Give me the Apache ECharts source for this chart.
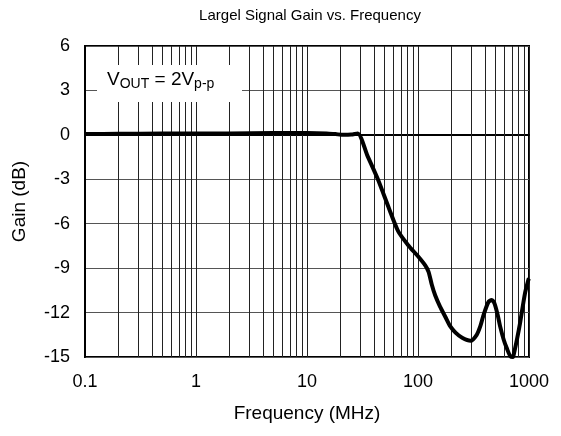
<!DOCTYPE html>
<html>
<head>
<meta charset="utf-8">
<script src="https://cdn.jsdelivr.net/npm/echarts@6/dist/echarts.min.js"></script>
<style>
html,body{margin:0;padding:0;background:#fff;}
#chart{width:561px;height:436px;}
</style>
</head>
<body>
<div id="chart"></div>
<script>
// Data
var freqMHz = [0.1, 0.2, 0.5, 1, 2, 5, 10, 15, 18, 21.5, 25, 28.6, 35, 43.5, 55, 66.2, 81.6, 100, 115.8, 124.5, 133, 143, 158, 176.6, 194, 217.8, 250, 298, 338, 365, 388, 430, 461, 487, 520, 548, 590, 630, 684, 716, 733, 780, 829, 920, 986, 1000];
var gainDb  = [0.05, 0.07, 0.09, 0.1, 0.1, 0.12, 0.12, 0.1, 0.05, 0.0, 0.02, 0.1, -1.4, -3.0, -5.0, -6.5, -7.45, -8.2, -8.8, -9.25, -10.1, -10.85, -11.6, -12.3, -12.9, -13.35, -13.7, -13.9, -13.5, -12.9, -12.2, -11.3, -11.15, -11.35, -12.1, -12.9, -13.8, -14.4, -14.98, -15.0, -14.75, -13.8, -12.75, -10.7, -9.8, -9.7];
var xTickValues = [0.1, 1, 10, 100, 1000];
var xTickLabels = ['0.1', '1', '10', '100', '1000'];
var yTickValues = [6, 3, 0, -3, -6, -9, -12, -15];
var yTickLabels = ['6', '3', '0', '-3', '-6', '-9', '-12', '-15'];
var minorMultipliers = [2, 3, 4, 5, 6, 7, 8, 9];
var decadeStarts = [0.1, 1, 10, 100];
var titleText = 'Largel Signal Gain vs. Frequency';
var xName = 'Frequency (MHz)';
var yName = 'Gain (dB)';

var FONT = '"Liberation Sans", Arial, sans-serif';

var seriesData = freqMHz.map(function (f, i) { return [f, gainDb[i]]; });

var minorLines = [];
decadeStarts.forEach(function (d) {
  minorMultipliers.forEach(function (m) {
    minorLines.push({ xAxis: +(d * m).toPrecision(6) });
  });
});

var chart = echarts.init(document.getElementById('chart'), null, { renderer: 'canvas' });
chart.setOption({
  animation: false,
  backgroundColor: '#fff',
  title: {
    text: titleText,
    left: 305,
    top: 3,
    textAlign: 'center',
    textStyle: { fontFamily: FONT, fontSize: 15, fontWeight: 'normal', color: '#000' }
  },
  grid: {
    left: 85, right: 32, top: 46, bottom: 79,
    show: true, borderColor: '#000', borderWidth: 2, backgroundColor: 'transparent'
  },
  xAxis: {
    type: 'log',
    logBase: 10,
    min: 0.1,
    max: 1000,
    name: xName,
    nameLocation: 'middle',
    nameGap: 47,
    nameTextStyle: { fontFamily: FONT, fontSize: 19, color: '#000' },
    axisLine: { show: true, lineStyle: { color: '#000', width: 2 } },
    axisTick: { show: false },
    axisLabel: {
      fontFamily: FONT, fontSize: 18, color: '#000', margin: 16,
      formatter: function (v) {
        for (var i = 0; i < xTickValues.length; i++) {
          if (Math.abs(Math.log10(v) - Math.log10(xTickValues[i])) < 1e-6) return xTickLabels[i];
        }
        return '';
      }
    },
    splitLine: { show: true, lineStyle: { color: '#222', width: 1 } }
  },
  yAxis: {
    type: 'value',
    min: -15,
    max: 6,
    interval: 3,
    name: yName,
    nameLocation: 'middle',
    nameGap: 56,
    nameTextStyle: { fontFamily: FONT, fontSize: 19, color: '#000' },
    axisLine: { show: true, lineStyle: { color: '#000', width: 2 } },
    axisTick: { show: false },
    axisLabel: {
      fontFamily: FONT, fontSize: 18, color: '#000', margin: 15,
      formatter: function (v) {
        var i = yTickValues.indexOf(v);
        return i >= 0 ? yTickLabels[i] : '';
      }
    },
    splitLine: { show: true, lineStyle: { color: '#555', width: 1.2 } }
  },
  graphic: [
    {
      type: 'rect',
      left: 97, top: 65, z: 10,
      shape: { width: 145, height: 37 },
      style: { fill: '#fff' }
    },
    {
      type: 'text',
      left: 107, top: 70, z: 11,
      style: {
        text: '{v|V}{s|OUT}{v| = 2V}{s|p-p}',
        rich: {
          v: { fontFamily: FONT, fontSize: 19, lineHeight: 24, fill: '#000', color: '#000' },
          s: { fontFamily: FONT, fontSize: 14, lineHeight: 14, verticalAlign: 'bottom', fill: '#000', color: '#000' }
        }
      }
    }
  ],
  series: [
    {
      type: 'line',
      z: 1,
      data: [],
      silent: true,
      markLine: {
        silent: true,
        symbol: 'none',
        label: { show: false },
        lineStyle: { type: 'solid', color: '#222', width: 1 },
        data: minorLines
      }
    },
    {
      type: 'line',
      z: 5,
      data: seriesData,
      showSymbol: false,
      smooth: 0.25,
      lineStyle: { color: '#000', width: 4 },
      itemStyle: { color: '#000' }
    }
  ]
});
</script>
</body>
</html>
